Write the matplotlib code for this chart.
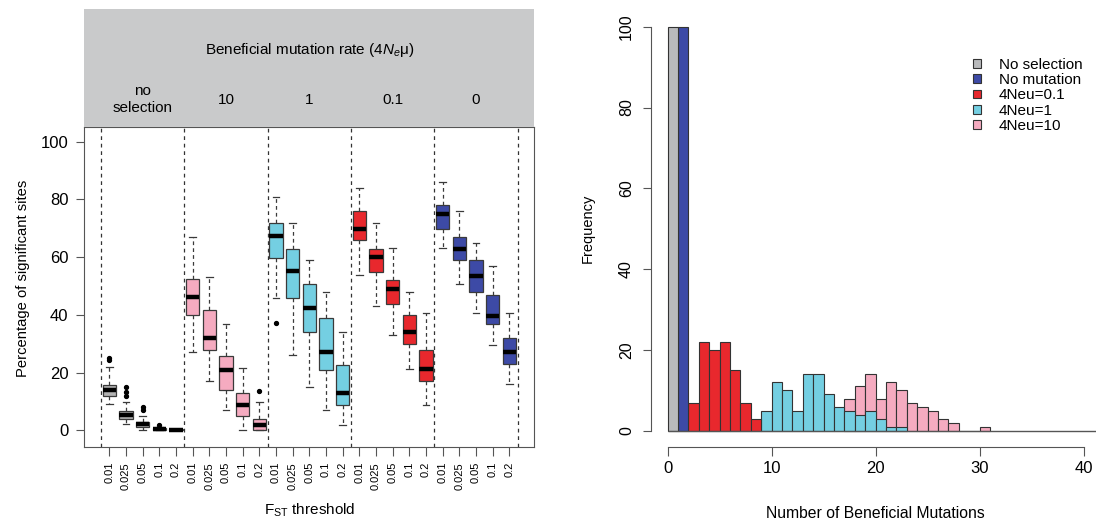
import matplotlib.pyplot as plt
import numpy as np

plt.rcParams['font.family'] = ['Liberation Sans', 'DejaVu Sans']
plt.rcParams['mathtext.fontset'] = 'custom'
plt.rcParams['mathtext.rm'] = 'Liberation Sans'
plt.rcParams['mathtext.it'] = 'Liberation Sans:italic'

##### Left panel: % significant sites per FST threshold #####
fst_labels = ['0.01', '0.025', '0.05', '0.1', '0.2'] * 5
group_labels = ['no\nselection', '10', '1', '0.1', '0']
group_colors = ['#b3b3b3', '#f5abc0', '#74cfe2', '#e8282d', '#3d4aa6']

whislo = [9.0, 2.1, 0.0, 0.0, 0.0, 27.0, 17.0, 6.9, 0.0, 0.0,
          46.0, 26.0, 15.1, 7.0, 1.9, 53.9, 43.0, 32.9, 21.1, 8.7,
          63.1, 50.8, 40.8, 29.7, 15.9]
q1 = [12.0, 3.9, 1.1, 0.0, 0.0, 40.0, 27.8, 13.9, 4.9, 0.1,
      59.8, 46.0, 34.0, 20.8, 8.7, 66.1, 54.8, 43.9, 29.8, 16.9,
      69.8, 58.9, 47.9, 36.7, 22.8]
med = [13.9, 5.2, 2.1, 0.3, 0.0, 46.1, 31.9, 20.9, 8.7, 1.8,
       67.2, 55.1, 42.5, 27.0, 12.8, 69.6, 60.1, 49.1, 33.9, 21.1,
       75.0, 62.9, 53.4, 39.5, 27.0]
q3 = [15.7, 6.7, 3.0, 0.7, 0.3, 52.4, 41.8, 25.9, 12.8, 3.8,
      71.8, 62.9, 50.7, 38.9, 22.7, 75.9, 62.9, 52.0, 39.9, 27.8,
      77.9, 66.9, 59.1, 47.0, 31.8]
whishi = [21.8, 9.9, 5.0, 1.0, 0.3, 66.9, 53.1, 36.7, 21.6, 9.9,
          81.0, 71.8, 58.9, 47.9, 34.0, 83.9, 71.8, 63.0, 47.9, 40.8,
          85.9, 75.9, 64.8, 56.9, 40.8]
fliers = [[24.2, 25.2], [11.9, 13.3, 15.0], [6.9, 8.0], [1.7], [],
          [], [], [], [], [13.7],
          [37.0], [], [], [], [],
          [], [], [], [], [],
          [], [], [], [], []]

##### Right panel: histogram of beneficial mutations #####
hist_labels = ['No selection', 'No mutation', '4Neu=0.1', '4Neu=1', '4Neu=10']
hist_colors = ['#b9babc', '#3d4aa6', '#e8282d', '#74cfe2', '#f5abc0']
nosel_start, nosel_counts = 0, [100]
nomut_start, nomut_counts = 1, [100]
neu01_start, neu01_counts = 2, [7, 22, 20, 22, 15, 7, 3]
neu1_start, neu1_counts = 9, [5, 12, 10, 5, 14, 14, 9, 6, 5, 4, 5, 3, 1, 1]
neu10_start, neu10_counts = 17, [8, 11, 14, 8, 12, 10, 7, 6, 5, 3, 2, 0, 0, 1]

fig = plt.figure(figsize=(10.96, 5.23), dpi=100)

# boxplots
ax1 = fig.add_axes([0.0769, 0.1459, 0.4106, 0.6119])
stats = [dict(whislo=whislo[i], q1=q1[i], med=med[i], q3=q3[i],
              whishi=whishi[i], fliers=fliers[i]) for i in range(25)]
pos = np.arange(1, 26)
bp = ax1.bxp(stats, positions=pos, widths=0.8, capwidths=0.4, patch_artist=True,
             boxprops=dict(edgecolor='#3a3a3a', linewidth=0.9),
             medianprops=dict(color='black', linewidth=3.2, solid_capstyle='butt'),
             whiskerprops=dict(color='#3a3a3a', linestyle=(0, (3, 2.5)), linewidth=0.9),
             capprops=dict(color='#3a3a3a', linewidth=0.9),
             flierprops=dict(marker='o', markersize=2.8, markerfacecolor='black',
                             markeredgecolor='black'))
for i, box in enumerate(bp['boxes']):
    box.set_facecolor(group_colors[i // 5])

for xs in np.arange(0.5, 26, 5):
    ax1.axvline(xs, color='#333333', linestyle=(0, (3, 3)), linewidth=0.9, zorder=0)

ax1.set_xlim(-0.5, 26.5)
ax1.set_ylim(-5.7, 105.2)
ax1.set_yticks(np.arange(0, 101, 20))
ax1.set_xticks(pos)
ax1.set_xticklabels(fst_labels, rotation=90, fontsize=8)
ax1.tick_params(axis='y', labelsize=12, length=6, pad=5.5, color='#555555')
ax1.tick_params(axis='x', length=6.5, pad=4.5, color='#555555')
for s in ax1.spines.values():
    s.set_color('#555555')

fig.text(23 / 1096, 0.468, 'Percentage of significant sites', rotation=90,
         ha='center', va='center', fontsize=10.6)
fig.text(309.5 / 1096, 8 / 523, r'F$_{\rm ST}$ threshold', ha='center',
         va='baseline', fontsize=11)

# grey header strip
hdr = fig.add_axes([0.0769, 0.7578, 0.4106, 0.2244])
hdr.set_facecolor('#c9cacb')
hdr.set_xlim(-0.5, 26.5)
hdr.set_ylim(0, 1)
hdr.set_xticks([])
hdr.set_yticks([])
for s in hdr.spines.values():
    s.set_visible(False)
hdr.text(13, 0.655, r'Beneficial mutation rate (4$N_e$μ)', ha='center',
         va='center', fontsize=11)
for g, lab in enumerate(group_labels):
    hdr.text(3 + 5 * g, 0.23, lab, ha='center', va='center', fontsize=11,
             linespacing=1.3)

# histogram
ax2 = fig.add_axes([0.5936, 0.1453, 0.4103, 0.8346])
series = [(neu10_start, neu10_counts, 4), (neu1_start, neu1_counts, 3),
          (neu01_start, neu01_counts, 2), (nomut_start, nomut_counts, 1),
          (nosel_start, nosel_counts, 0)]
handles = [None] * 5
for start, counts, k in series:
    left = start + np.arange(len(counts))
    handles[k] = ax2.bar(left, counts, width=1, align='edge', color=hist_colors[k],
                         edgecolor='#333333', linewidth=0.8, label=hist_labels[k])
ax2.hlines(0, 0, 45, color='#555555', linewidth=1)

ax2.set_xlim(-1.64, 41.6)
ax2.set_ylim(-4, 104)
ax2.set_xticks(np.arange(0, 41, 10))
ax2.set_yticks(np.arange(0, 101, 20))
ax2.set_yticklabels([str(v) for v in range(0, 101, 20)], rotation=90, va='center')
ax2.tick_params(axis='x', labelsize=12, length=6.5, pad=3.5, color='#555555')
ax2.tick_params(axis='y', labelsize=11.5, length=6, pad=6, color='#555555')
ax2.spines['top'].set_visible(False)
ax2.spines['right'].set_visible(False)
ax2.spines['left'].set_bounds(0, 100)
ax2.spines['bottom'].set_bounds(0, 40)
ax2.spines['left'].set_color('#555555')
ax2.spines['bottom'].set_color('#555555')

fig.text(588 / 1096, (523 - 228.7) / 523, 'Frequency', rotation=90,
         ha='center', va='center', fontsize=10.5)
fig.text(875.5 / 1096, 5 / 523, 'Number of Beneficial Mutations', ha='center',
         va='baseline', fontsize=11.3)

ax2.legend(handles=handles, loc='upper left', bbox_to_anchor=(973 / 1096, (523 - 58) / 523),
           bbox_transform=fig.transFigure, frameon=False, fontsize=11,
           handlelength=0.5, handleheight=0.5, handletextpad=1.2,
           labelspacing=0.08, borderpad=0, borderaxespad=0)

fig.savefig('out.png', dpi=100)
